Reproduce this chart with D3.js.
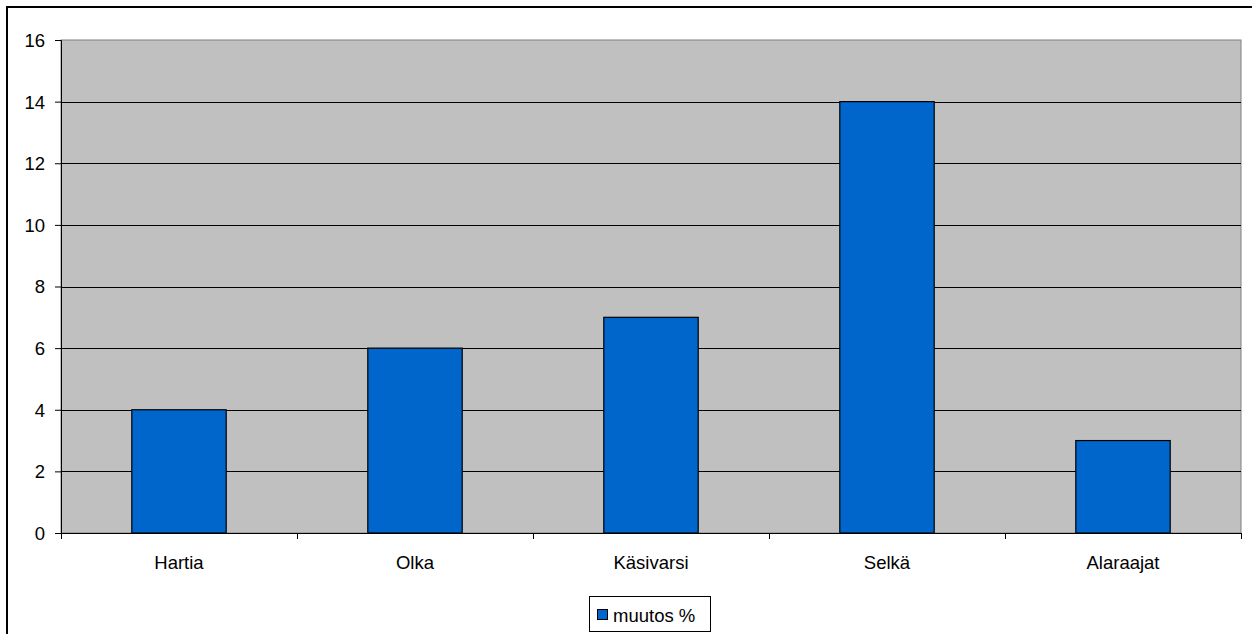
<!DOCTYPE html>
<html>
<head>
<meta charset="utf-8">
<script src="https://cdn.jsdelivr.net/npm/d3@7"></script>
<style>
  body { margin: 0; background: #fff; }
  text { font-family: "Liberation Sans", Arial, sans-serif; fill: #000; }
</style>
</head>
<body>
<svg id="chart" width="1252" height="634"></svg>
<script>
const categories = ["Hartia", "Olka", "Käsivarsi", "Selkä", "Alaraajat"];
const values = [4, 6, 7, 14, 3];
const yTicks = [0, 2, 4, 6, 8, 10, 12, 14, 16];
const seriesName = "muutos %";

const svg = d3.select("#chart");
const margin = { left: 61, top: 40, right: 1241, bottom: 533 };
const fontSize = "18.5px";

// outer frame
svg.append("rect")
    .attr("x", 7).attr("y", 7)
    .attr("width", 1252).attr("height", 640)
    .attr("fill", "none")
    .attr("stroke", "#000")
    .attr("stroke-width", 2);

const x = d3.scaleBand()
    .domain(categories)
    .range([margin.left, margin.right])
    .padding(0);

const y = d3.scaleLinear()
    .domain([0, 16])
    .range([margin.bottom, margin.top]);

// plot background
svg.append("rect")
    .attr("x", margin.left).attr("y", margin.top)
    .attr("width", margin.right - margin.left)
    .attr("height", margin.bottom - margin.top)
    .attr("fill", "#c0c0c0")
    .attr("stroke", "#808080")
    .attr("stroke-width", 1);

// gridlines
svg.append("g")
    .selectAll("line")
    .data(yTicks.filter(d => d > 0 && d < 16))
    .enter()
    .append("line")
    .attr("x1", margin.left).attr("x2", margin.right)
    .attr("y1", d => Math.round(y(d)) + 0.5)
    .attr("y2", d => Math.round(y(d)) + 0.5)
    .attr("stroke", "#000")
    .attr("stroke-width", 1);

// bars
const barW = x.bandwidth() * 0.4;
svg.append("g")
    .selectAll("rect")
    .data(values)
    .enter()
    .append("rect")
    .attr("x", (d, i) => x(categories[i]) + (x.bandwidth() - barW) / 2)
    .attr("y", d => y(d))
    .attr("width", barW)
    .attr("height", d => y(0) - y(d))
    .attr("fill", "#0066cc")
    .attr("stroke", "#000")
    .attr("stroke-width", 1.2);

// y axis
const yAxis = d3.axisLeft(y)
    .tickValues(yTicks)
    .tickSize(6)
    .tickPadding(10)
    .tickFormat(d3.format("d"));
const yg = svg.append("g")
    .attr("transform", `translate(${margin.left},0)`)
    .call(yAxis);
yg.select(".domain").attr("stroke", "#000");
yg.selectAll(".tick line").attr("stroke", "#000");
yg.selectAll("text").style("font-size", fontSize).attr("dy", "0.35em");

// x axis: ticks at category boundaries
const xg = svg.append("g")
    .attr("transform", `translate(0,${margin.bottom})`);
xg.append("line")
    .attr("x1", margin.left).attr("x2", margin.right)
    .attr("y1", 0.5).attr("y2", 0.5)
    .attr("stroke", "#000");
const bounds = categories.map(c => x(c)).concat([x.range()[1]]);
xg.selectAll("line.tk")
    .data(bounds)
    .enter()
    .append("line")
    .attr("class", "tk")
    .attr("x1", d => Math.round(d) + 0.5)
    .attr("x2", d => Math.round(d) + 0.5)
    .attr("y1", 0).attr("y2", 6)
    .attr("stroke", "#000");
xg.selectAll("text")
    .data(categories)
    .enter()
    .append("text")
    .attr("x", d => x(d) + x.bandwidth() / 2)
    .attr("y", 36)
    .attr("text-anchor", "middle")
    .style("font-size", fontSize)
    .text(d => d);

// legend
const lg = svg.append("g").attr("transform", "translate(589,596)");
lg.append("rect")
    .attr("x", 0.5).attr("y", 0.5)
    .attr("width", 121).attr("height", 35)
    .attr("fill", "#fff")
    .attr("stroke", "#000");
lg.append("rect")
    .attr("x", 8.5).attr("y", 13.5)
    .attr("width", 10).attr("height", 10)
    .attr("fill", "#0066cc")
    .attr("stroke", "#000");
lg.append("text")
    .attr("x", 24).attr("y", 26)
    .style("font-size", fontSize)
    .text(seriesName);
</script>
</body>
</html>
